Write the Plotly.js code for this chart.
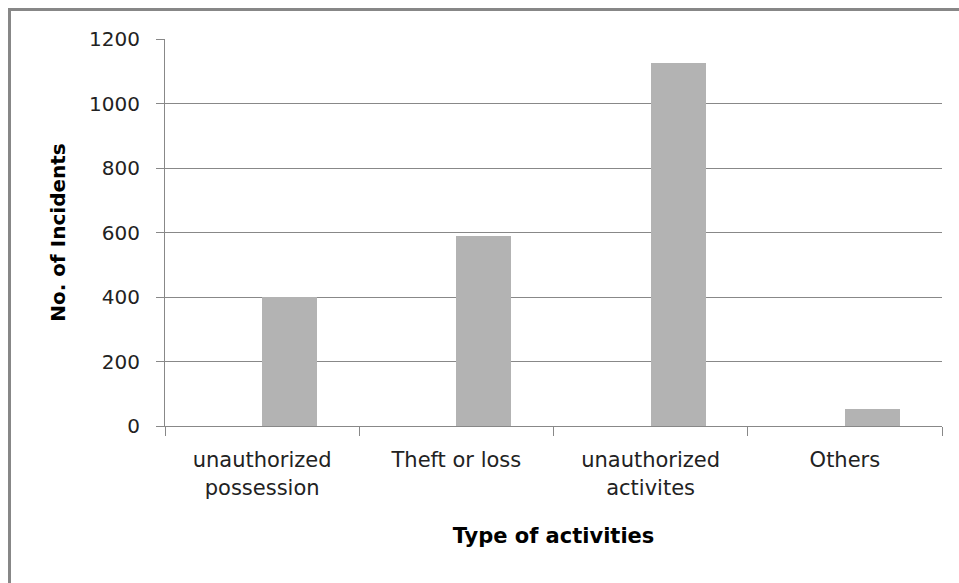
<!DOCTYPE html>
<html>
<head>
<meta charset="utf-8">
<script src="https://cdn.plot.ly/plotly-3.0.1.min.js"></script>
<style>
  html, body { margin: 0; padding: 0; background: #fff; }
  #wrap { position: relative; width: 959px; height: 583px; overflow: hidden; }
  #chart { position: absolute; left: 0; top: 0; width: 959px; height: 583px; }
  #frame { position: absolute; left: 8px; top: 8px; width: 1200px; height: 1200px;
           border-left: 3px solid #878787; border-top: 3px solid #878787; pointer-events: none; }
</style>
</head>
<body>
<div id="wrap">
  <div id="chart"></div>
  <div id="frame"></div>
</div>
<script>
const categories = ["unauthorized<br>possession", "Theft or loss", "unauthorized<br>activites", "Others"];
const incidents = [400, 590, 1125, 53];
const yTickVals = [0, 200, 400, 600, 800, 1000, 1200];
const xTitle = "Type of activities";
const yTitle = "No. of Incidents";

const FONT = "DejaVu Sans, sans-serif";

const trace = {
  type: "bar",
  x: categories,
  y: incidents,
  width: 0.2835,
  offset: 0,
  marker: { color: "#b3b3b3", line: { width: 0 } },
  hoverinfo: "x+y",
  showlegend: false
};

const layout = {
  width: 959,
  height: 583,
  margin: { l: 165, r: 17, t: 39, b: 157 },
  paper_bgcolor: "#ffffff",
  plot_bgcolor: "#ffffff",
  showlegend: false,
  font: { family: FONT, color: "#222222" },
  xaxis: {
    type: "category",
    tickson: "boundaries",
    ticks: "outside",
    ticklen: 9,
    tickwidth: 1,
    tickcolor: "#888888",
    showline: true,
    linecolor: "#888888",
    linewidth: 1,
    showgrid: false,
    tickfont: { family: FONT, size: 21, color: "#222222" },
    ticklabelstandoff: 15,
    title: { text: xTitle, font: { family: FONT, size: 21, color: "#000000", weight: "bold" }, standoff: 29 },
    fixedrange: true
  },
  yaxis: {
    range: [0, 1200],
    tickvals: yTickVals,
    ticks: "outside",
    ticklen: 8,
    tickwidth: 1,
    tickcolor: "#888888",
    showline: true,
    linecolor: "#888888",
    linewidth: 1,
    showgrid: true,
    gridcolor: "#888888",
    gridwidth: 1,
    zeroline: false,
    tickfont: { family: FONT, size: 20, color: "#222222" },
    ticklabelstandoff: 12,
    title: { text: yTitle, font: { family: FONT, size: 20, color: "#000000", weight: "bold" }, standoff: 18 },
    fixedrange: true
  },
  bargap: 0
};

Plotly.newPlot("chart", [trace], layout, { displayModeBar: false, staticPlot: true });
</script>
</body>
</html>
